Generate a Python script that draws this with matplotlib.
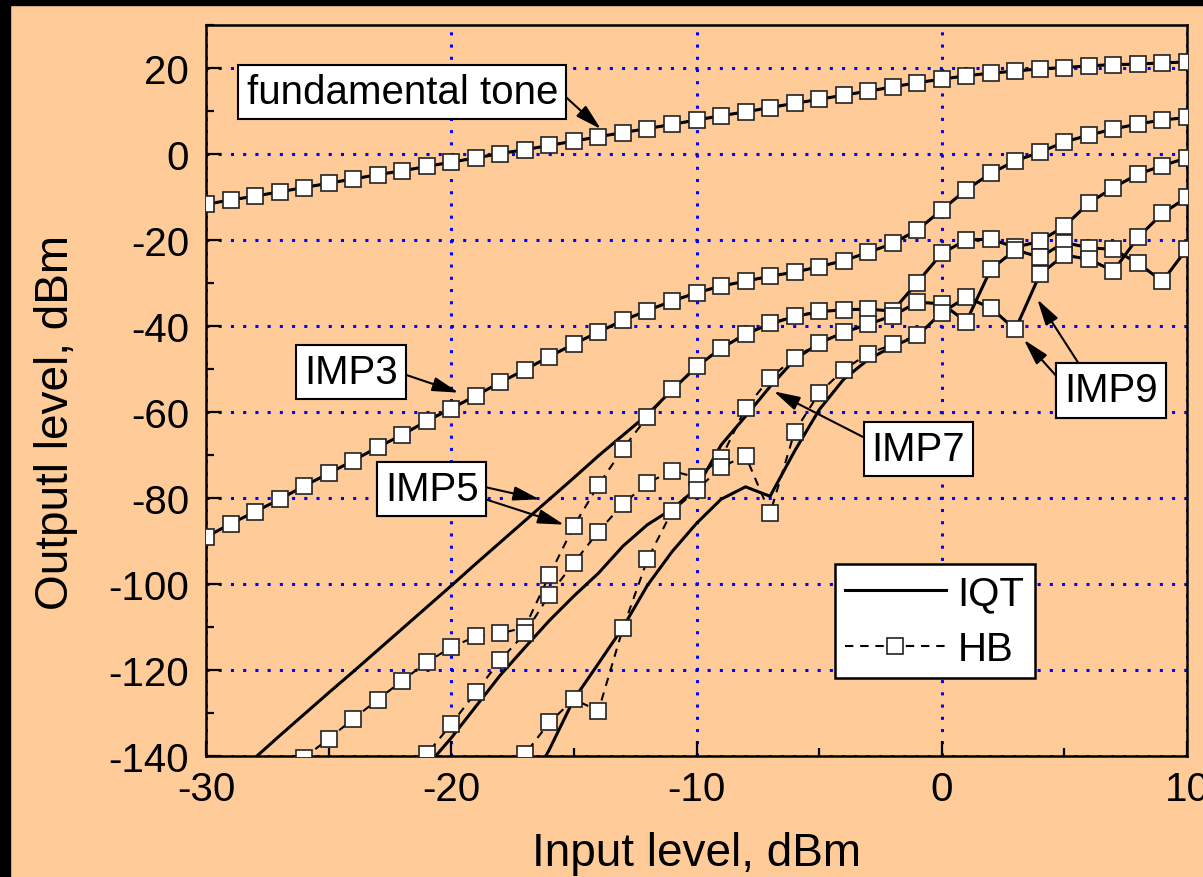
import matplotlib
matplotlib.use('Agg')
import matplotlib.pyplot as plt
import numpy as np
from matplotlib.lines import Line2D
from matplotlib.patches import Rectangle

nan = np.nan

# input level, dBm
x = list(range(-30, 11))

# output levels, dBm (index 0 -> -30 dBm, last -> +10 dBm)
fund = [-11.7, -10.7, -9.8, -8.8, -7.8, -6.8, -5.8, -4.8, -3.9, -2.9,
        -1.9, -0.9, 0.1, 1.0, 2.0, 3.0, 4.0, 5.0, 5.9, 6.9,
        7.9, 8.9, 9.8, 10.8, 11.8, 12.7, 13.7, 14.6, 15.6, 16.6,
        17.4, 18.2, 18.8, 19.3, 19.8, 20.1, 20.5, 20.8, 20.9, 21.2, 21.4]

imp3 = [-89.1, -86.0, -83.2, -80.3, -77.2, -74.3, -71.3, -68.2, -65.3, -62.1,
        -59.2, -56.2, -53.1, -50.2, -47.1, -44.2, -41.4, -38.7, -36.4, -34.2,
        -32.3, -30.7, -29.6, -28.4, -27.5, -26.2, -24.8, -22.9, -20.8, -17.7,
        -13.0, -8.3, -4.5, -1.6, 0.4, 2.8, 4.4, 5.8, 7.0, 7.9, 8.5]

imp5_iqt = [-150.5, -145.4, -140.4, -135.3, -130.3, -125.3, -120.4, -115.4, -110.4, -105.4,
            -100.4, -95.3, -90.3, -85.3, -80.3, -75.3, -70.2, -65.4, -60.6, -54.9,
            -49.5, -45.2, -41.9, -39.5, -37.8, -36.7, -36.2, -36.1, -36.5, -29.9,
            -23.1, -20.0, -19.8, -21.7, -20.3, -16.8, -11.4, -7.8, -4.7, -2.7, -0.9]
imp5_hb = [nan, nan, nan, -145.0, -140.4, -136.0, -131.4, -126.9, -122.5, -118.2,
           -114.7, -112.2, -111.5, -110.1, -98.0, -86.5, -77.0, -68.6, -61.1, -54.7,
           -49.4, -45.1, -41.8, -39.4, -37.7, -36.6, -36.2, -36.1, -36.5, -29.9,
           -23.1, -20.0, -19.8, -21.7, -20.3, -16.8, -11.4, -7.8, -4.7, -2.7, -0.9]

imp7_iqt = [nan, nan, nan, nan, nan, nan, nan, nan, -149.0, -142.4,
            -135.8, -128.5, -121.2, -114.8, -108.5, -102.8, -97.5, -91.2, -86.2, -82.6,
            -77.8, -67.7, -61.0, -54.1, -47.8, -44.0, -41.5, -39.6, -37.6, -34.5,
            -34.8, -39.0, -26.8, -22.3, -24.0, -20.6, -21.8, -22.2, -25.4, -29.6, -22.0]
imp7_hb = [nan, nan, nan, nan, nan, nan, nan, nan, -147.0, -139.6,
           -132.6, -125.2, -117.7, -111.5, -102.5, -95.1, -87.8, -81.4, -76.5, -73.7,
           -75.2, -70.8, -59.1, -52.1, -47.4, -43.9, -41.5, -39.6, -37.6, -34.5,
           -34.8, -39.0, -26.8, -22.3, -24.0, -20.6, -21.8, -22.2, -25.4, -29.6, -22.0]

imp9_iqt = [nan, nan, nan, nan, nan, nan, nan, nan, nan, nan,
            nan, nan, nan, -149.0, -138.5, -126.8, -118.5, -110.1, -100.3, -92.5,
            -85.9, -80.3, -77.4, -79.6, -69.1, -59.5, -52.4, -47.8, -44.7, -42.3,
            -36.9, -33.3, -35.8, -40.8, -28.0, -23.5, -24.5, -27.2, -19.4, -13.8, -10.1]
imp9_hb = [nan, nan, nan, nan, nan, nan, nan, nan, nan, nan,
           nan, nan, -147.0, -139.6, -132.2, -126.8, -129.5, -110.3, -94.3, -83.1,
           -78.2, -72.8, -70.2, -83.6, -64.6, -55.6, -50.2, -46.4, -44.3, -42.2,
           -36.9, -33.3, -35.8, -40.8, -28.0, -23.5, -24.5, -27.2, -19.4, -13.8, -10.1]

iqt_series = [fund, imp3, imp5_iqt, imp7_iqt, imp9_iqt]
hb_series = [fund, imp3, imp5_hb, imp7_hb, imp9_hb]

bg = '#FFCC99'
plt.rcParams['font.family'] = ['Liberation Sans', 'DejaVu Sans']
plt.rcParams['font.size'] = 29
plt.rcParams['axes.unicode_minus'] = False

fig = plt.figure(figsize=(12.03, 8.78), dpi=100)
fig.patch.set_facecolor(bg)
# black scan border at top and left
fig.patches.append(Rectangle((0, 1 - 6/878), 1, 6/878, transform=fig.transFigure, color='black'))
fig.patches.append(Rectangle((0, 0), 10/1203, 1, transform=fig.transFigure, color='black'))

ax = fig.add_axes([206/1203, 1 - 757/878, 981/1203, 731/878])
ax.set_facecolor(bg)

hb_style = dict(color='black', lw=1.5, ls=(0, (4, 3.3)), marker='s', ms=11.5,
                mfc='white', mec='#222222', mew=1.2)

for s in iqt_series:
    ax.plot(x, s, color='black', lw=2.2, zorder=3)
for s in hb_series:
    ax.plot(x, s, zorder=4, **hb_style)

ax.set_xlim(-30, 10)
ax.set_ylim(-140, 30)
ax.set_xticks([-30, -20, -10, 0, 10])
ax.set_xticks([-25, -15, -5, 5], minor=True)
ax.set_yticks(np.arange(-140, 21, 20))
ax.set_yticks(np.arange(-130, 31, 20), minor=True)
ax.grid(True, which='major', color='blue', ls=(0, (1, 3)), lw=2.2)
ax.set_axisbelow(True)

ax.tick_params(which='major', direction='in', length=11, width=1.6, labelsize=29)
ax.tick_params(axis='x', which='major', pad=10)
ax.tick_params(axis='y', which='major', pad=12)
ax.tick_params(which='minor', direction='in', length=6, width=1.6)
for sp in ax.spines.values():
    sp.set_linewidth(1.8)

ax.set_xlabel('Input level, dBm', fontsize=33)
ax.set_ylabel('Outputl level, dBm', fontsize=33)
ax.xaxis.set_label_coords(0.5, -0.103)
ax.yaxis.set_label_coords(-0.13, 0.458)

box = dict(boxstyle='square,pad=0.2', fc='white', ec='black', lw=1.5)
arrow = dict(arrowstyle='-|>,head_length=0.55,head_width=0.15', color='black', lw=1.5,
             shrinkA=0, shrinkB=0)


def label(text, xy, xytext, relpos):
    ax.annotate(text, xy=xy, xytext=xytext, ha='center', va='center', fontsize=29,
                bbox=box, arrowprops=dict(arrow, relpos=relpos), zorder=6)


label('fundamental tone', (-13.9, 5.8), (-22.0, 14.5), (1, 0.55))
label('IMP3', (-19.7, -55.5), (-24.1, -50.7), (1, 0.5))
label('IMP5', (-16.4, -80.3), (-20.8, -78.0), (1, 0.6))
label('IMP5', (-15.4, -86.2), (-20.8, -78.0), (1, 0.3))
label('IMP7', (-6.85, -55.2), (-0.95, -68.6), (0, 0.7))
label('IMP9', (3.35, -43.2), (6.9, -55.0), (0, 0.65))
label('IMP9', (3.9, -33.8), (6.9, -55.0), (0.21, 1.0))

handles = [Line2D([], [], color='black', lw=2.2),
           Line2D([], [], **hb_style)]
leg = ax.legend(handles, ['IQT', 'HB'], loc='upper left', bbox_to_anchor=(0.641, 0.2627),
                borderaxespad=0, fancybox=False, framealpha=1, edgecolor='black',
                fontsize=29, handlelength=2.5, handletextpad=0.3, borderpad=0.25,
                labelspacing=0.45, numpoints=1)
leg.get_frame().set_linewidth(1.8)
leg.set_zorder(7)

fig.savefig('out.png', dpi=100, facecolor=bg)
